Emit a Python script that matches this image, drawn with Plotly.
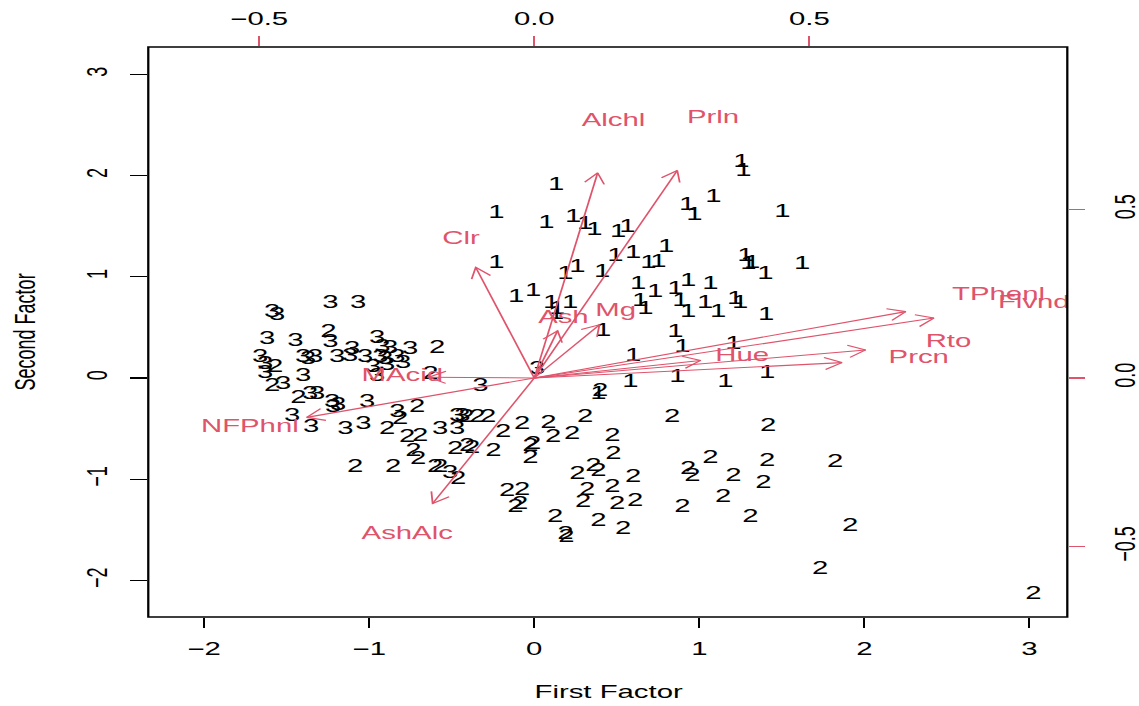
import math
import plotly.graph_objects as go

# Factor scores (First Factor, Second Factor) for each cultivar
cult1_f1 = [1.255, 1.267, 0.133, 1.085, 0.927, 0.970, 1.503, -0.230, 0.073, 0.236,
            0.309, 0.364, 0.509, 0.564, -0.230, 0.188, 0.261, 0.412, 0.491, 0.600,
            0.691, 0.752, 0.800, 1.279, 1.297, 1.321, 1.400, 1.624, -0.109, -0.006,
            0.103, 0.218, 0.133, 0.139, 0.630, 0.733, 0.855, 0.885, 0.933, 1.067,
            0.642, 0.673, 0.933, 1.036, 1.115, 1.218, 1.248, 1.406, 0.418, 0.855,
            0.897, 1.206, 0.600, 0.582, 0.867, 1.158, 1.412, 0.388]
cult1_f2 = [2.134, 2.045, 1.907, 1.779, 1.700, 1.601, 1.640, 1.630, 1.522, 1.581,
            1.512, 1.453, 1.433, 1.492, 1.136, 1.018, 1.087, 1.047, 1.196, 1.235,
            1.136, 1.146, 1.294, 1.196, 1.117, 1.136, 1.018, 1.117, 0.791, 0.850,
            0.741, 0.741, 0.632, 0.672, 0.919, 0.840, 0.870, 0.751, 0.949, 0.919,
            0.751, 0.672, 0.652, 0.741, 0.652, 0.771, 0.741, 0.613, 0.455, 0.445,
            0.306, 0.326, 0.208, -0.049, 0.000, -0.049, 0.049, -0.168]

cult2_f1 = [-1.248, -1.570, -1.588, -0.588, -0.630, -1.430, -0.709, -0.812, -0.891, -0.770,
            -0.691, -0.733, -0.703, -1.085, -0.855, -0.600, -0.570, -0.461, -0.345, -0.279,
            -0.188, -0.073, 0.085, 0.115, 0.230, 0.309, 0.473, 0.400, -0.479, -0.406,
            -0.376, -0.248, -0.024, -0.006, -0.024, 0.479, 0.261, 0.358, 0.388, 0.600,
            0.933, 0.958, 1.067, 1.206, -0.164, -0.073, -0.115, -0.085, 0.321, 0.473,
            0.297, 0.503, 0.612, 0.127, 0.388, 0.539, 0.188, 0.194, 0.897, 1.145,
            0.836, 1.418, 1.412, 1.388, 1.824, 1.309, 1.915, 1.733, 3.024, -0.412]
cult2_f2 = [0.445, 0.099, -0.089, 0.296, 0.030, -0.198, -0.287, -0.415, -0.514, -0.593,
            -0.583, -0.731, -0.810, -0.889, -0.889, -0.889, -0.889, -1.008, -0.395, -0.395,
            -0.534, -0.464, -0.445, -0.593, -0.563, -0.395, -0.583, -0.138, -0.711, -0.682,
            -0.692, -0.731, -0.682, -0.662, -0.791, -0.761, -0.958, -0.879, -0.929, -0.988,
            -0.909, -0.978, -0.791, -0.978, -1.126, -1.107, -1.275, -1.255, -1.107, -1.087,
            -1.235, -1.255, -1.225, -1.374, -1.423, -1.502, -1.551, -1.581, -1.275, -1.186,
            -0.395, -0.484, -0.830, -1.038, -0.840, -1.383, -1.472, -1.897, -2.144, -0.395]

cult3_f1 = [-1.588, -1.558, -1.236, -1.067, -1.236, -1.618, -1.448, -0.952, -0.921, -0.873,
            -0.752, -1.661, -1.630, -1.630, -1.521, -1.400, -1.370, -1.327, -1.194, -1.103,
            -1.024, -0.933, -0.903, -0.830, -0.794, -0.976, -0.891, -1.400, -0.952, -0.327,
            -1.358, -1.315, -1.224, -1.188, -1.012, -1.467, -1.352, -1.145, -1.036, -0.830,
            -0.570, -0.467, -0.467, -0.509, 0.018, -1.115, -0.436, -1.218]
cult3_f2 = [0.652, 0.613, 0.741, 0.741, 0.346, 0.385, 0.356, 0.395, 0.306, 0.296,
            0.277, 0.198, 0.138, 0.049, -0.069, 0.198, 0.178, 0.198, 0.198, 0.277,
            0.198, 0.198, 0.178, 0.198, 0.148, 0.099, 0.128, 0.010, 0.010, -0.089,
            -0.168, -0.168, -0.247, -0.267, -0.247, -0.385, -0.494, -0.514, -0.464, -0.346,
            -0.514, -0.514, -0.385, -0.939, 0.079, 0.208, -0.385, -0.296]

# Variable loadings on the two factors
var_names = ["Alchl", "MAcid", "Ash", "AshAlc", "Mg", "TPhenl", "Flvnd",
             "NFPhnl", "Prcn", "Clr", "Hue", "Rto", "Prln"]
load_f1 = [0.144, -0.240, 0.053, -0.231, 0.148, 0.844, 0.908,
           -0.517, 0.699, -0.133, 0.378, 0.753, 0.325]
load_f2 = [0.760, 0.003, 0.175, -0.465, 0.197, 0.246, 0.222,
           -0.146, 0.057, 0.410, 0.065, 0.104, 0.769]

score_ticks = [-2, -1, 0, 1, 2, 3]
load_ticks = [-0.5, 0.0, 0.5]

RED = "#DF536B"
FONT = "Liberation Sans, Arial, Helvetica, sans-serif"
FS = 18

score_xr = [-2.339, 3.230]
score_yr = [-2.362, 3.271]
ratio = 0.3
load_xr = [v * ratio for v in score_xr]
load_yr = [v * ratio for v in score_yr]

fig = go.Figure()

for f1, f2, lab in [(cult1_f1, cult1_f2, "1"), (cult2_f1, cult2_f2, "2"), (cult3_f1, cult3_f2, "3")]:
    fig.add_trace(go.Scatter(
        x=f1, y=f2, mode="text", text=[lab] * len(f1),
        textposition="middle center",
        textfont=dict(family=FONT, size=FS, color="black"),
        xaxis="x", yaxis="y", hoverinfo="skip", showlegend=False, cliponaxis=False))

# Arrows drawn to 0.8 of each loading, with open two-barb heads
head = 0.036
ang = math.radians(30)
ax, ay = [], []
for f1, f2 in zip(load_f1, load_f2):
    tx, ty = 0.8 * f1, 0.8 * f2
    n = math.hypot(tx, ty)
    ux, uy = tx / n, ty / n
    ax += [0, tx, None]
    ay += [0, ty, None]
    barbs = []
    for s in (ang, -ang):
        bx = ux * math.cos(s) - uy * math.sin(s)
        by = ux * math.sin(s) + uy * math.cos(s)
        barbs.append((tx - head * bx, ty - head * by))
    ax += [barbs[0][0], tx, barbs[1][0], None]
    ay += [barbs[0][1], ty, barbs[1][1], None]

fig.add_trace(go.Scatter(
    x=ax, y=ay, mode="lines", line=dict(color=RED, width=1.1),
    xaxis="x2", yaxis="y2", hoverinfo="skip", showlegend=False, cliponaxis=False))

fig.add_trace(go.Scatter(
    x=load_f1, y=load_f2, mode="text", text=var_names,
    textposition="middle center",
    textfont=dict(family=FONT, size=FS, color=RED),
    xaxis="x2", yaxis="y2", hoverinfo="skip", showlegend=False, cliponaxis=False))

common = dict(showgrid=False, zeroline=False, showline=False, ticks="outside",
              automargin=False, ticklen=10, tickwidth=1.2,
              tickfont=dict(family=FONT, size=FS, color="black"))

fig.update_layout(
    width=699, height=706,
    margin=dict(l=91, r=44, t=47, b=89, pad=0, autoexpand=False),
    paper_bgcolor="white", plot_bgcolor="white",
    xaxis=dict(range=score_xr, tickvals=score_ticks, tickcolor="black",
               ticklabelstandoff=5, **common),
    yaxis=dict(range=score_yr, tickvals=score_ticks, tickcolor="black", tickangle=-90,
               ticklabelstandoff=7, **common),
    xaxis2=dict(range=load_xr, tickvals=load_ticks, tickformat=".1f", tickcolor=RED,
                overlaying="x", side="top", anchor="y", ticklabelstandoff=4, **common),
    yaxis2=dict(range=load_yr, tickvals=load_ticks, tickformat=".1f", tickcolor=RED,
                overlaying="y", side="right", anchor="x", tickangle=-90,
                ticklabelstandoff=9, **common),
    shapes=[dict(type="rect", xref="paper", yref="paper", x0=0, x1=1, y0=0, y1=1,
                 line=dict(color="black", width=1.4), layer="above")],
    annotations=[
        dict(text="First Factor", xref="paper", yref="paper", x=0.5, y=-0.1316,
             xanchor="center", yanchor="middle", showarrow=False,
             font=dict(family=FONT, size=FS, color="black")),
        dict(text="Second Factor", xref="paper", yref="paper", x=-0.134, y=0.5,
             xanchor="center", yanchor="middle", textangle=-90, showarrow=False,
             font=dict(family=FONT, size=FS, color="black")),
    ],
)

# Widen the whole figure horizontally to the final page width
post = """
document.body.style.margin = '0';
document.body.style.overflow = 'hidden';
var gd = document.getElementById('{plot_id}');
gd.style.transformOrigin = '0 0';
gd.style.transform = 'scaleX(' + (1139 / 699) + ')';
"""

fig.write_html("out.html", config={"displayModeBar": False, "staticPlot": True},
               post_script=post)
